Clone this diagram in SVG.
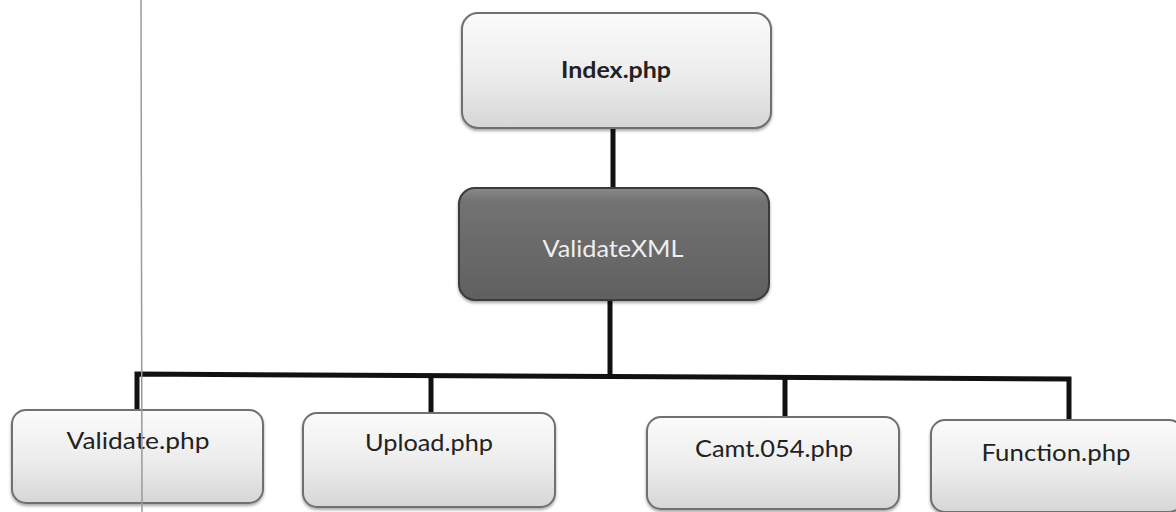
<svg xmlns="http://www.w3.org/2000/svg" width="1176" height="512" viewBox="0 0 1176 512">
  <defs>
    <linearGradient id="lightFill" x1="0" y1="0" x2="0" y2="1">
      <stop offset="0" stop-color="#fbfbfb"/>
      <stop offset="0.55" stop-color="#ececec"/>
      <stop offset="1" stop-color="#d6d6d6"/>
    </linearGradient>
    <linearGradient id="darkFill" x1="0" y1="0" x2="0" y2="1">
      <stop offset="0" stop-color="#8a8a8a"/>
      <stop offset="0.12" stop-color="#727272"/>
      <stop offset="1" stop-color="#606060"/>
    </linearGradient>
    <filter id="shadow" x="-5%" y="-5%" width="110%" height="120%">
      <feGaussianBlur in="SourceAlpha" stdDeviation="1.5"/>
      <feOffset dx="0" dy="2" result="b"/>
      <feComponentTransfer><feFuncA type="linear" slope="0.35"/></feComponentTransfer>
      <feMerge><feMergeNode/><feMergeNode in="SourceGraphic"/></feMerge>
    </filter>
  </defs>
  <style>
    .light { fill: url(#lightFill); stroke: #6f6f6f; stroke-width: 2; filter: url(#shadow); }
    .dark { fill: url(#darkFill); stroke: #3a3a3a; stroke-width: 2; filter: url(#shadow); }
    .lbl { font-family: Lato, "Open Sans", "Liberation Sans", sans-serif; font-size: 23px; fill: #222; text-anchor: middle; }
    .bold { font-weight: bold; }
    .white { fill: #eeeeee; }
    .conn { stroke: #111; stroke-width: 5; fill: none; stroke-linejoin: miter; stroke-linecap: butt; }
  </style>
  <rect width="1176" height="512" fill="#ffffff"/>

  <g id="connectors">
    <line class="conn" x1="613" y1="128" x2="613" y2="188"/>
    <line class="conn" x1="610" y1="300" x2="610" y2="377"/>
    <polyline class="conn" points="137,410 137,374 1069,379 1069,420"/>
    <line class="conn" x1="431" y1="375" x2="431" y2="413"/>
    <line class="conn" x1="785" y1="377" x2="785" y2="417"/>
  </g>

  <g id="node-index">
    <rect class="light" x="462" y="13" width="309" height="115" rx="16"/>
    <text class="lbl bold" x="616" y="78" textLength="110" lengthAdjust="spacingAndGlyphs">Index.php</text>
  </g>

  <g id="node-validatexml">
    <rect class="dark" x="459" y="188" width="310" height="112" rx="16"/>
    <text class="lbl white" x="613" y="257" textLength="141" lengthAdjust="spacingAndGlyphs">ValidateXML</text>
  </g>

  <g id="node-validate">
    <rect class="light" x="12" y="410" width="251" height="93" rx="14"/>
    <text class="lbl" x="138" y="449" textLength="143" lengthAdjust="spacingAndGlyphs">Validate.php</text>
  </g>

  <g id="node-upload">
    <rect class="light" x="303" y="413" width="252" height="94" rx="14"/>
    <text class="lbl" x="429" y="451" textLength="128" lengthAdjust="spacingAndGlyphs">Upload.php</text>
  </g>

  <g id="node-camt">
    <rect class="light" x="647" y="417" width="252" height="92" rx="14"/>
    <text class="lbl" x="774" y="457" textLength="158" lengthAdjust="spacingAndGlyphs">Camt.054.php</text>
  </g>

  <g id="node-function">
    <rect class="light" x="931" y="420" width="252" height="92" rx="14"/>
    <text class="lbl" x="1056" y="461" textLength="149" lengthAdjust="spacingAndGlyphs">Function.php</text>
  </g>

  <line x1="141" y1="0" x2="142" y2="512" stroke="#9a9a9a" stroke-width="1.5"/>
</svg>
